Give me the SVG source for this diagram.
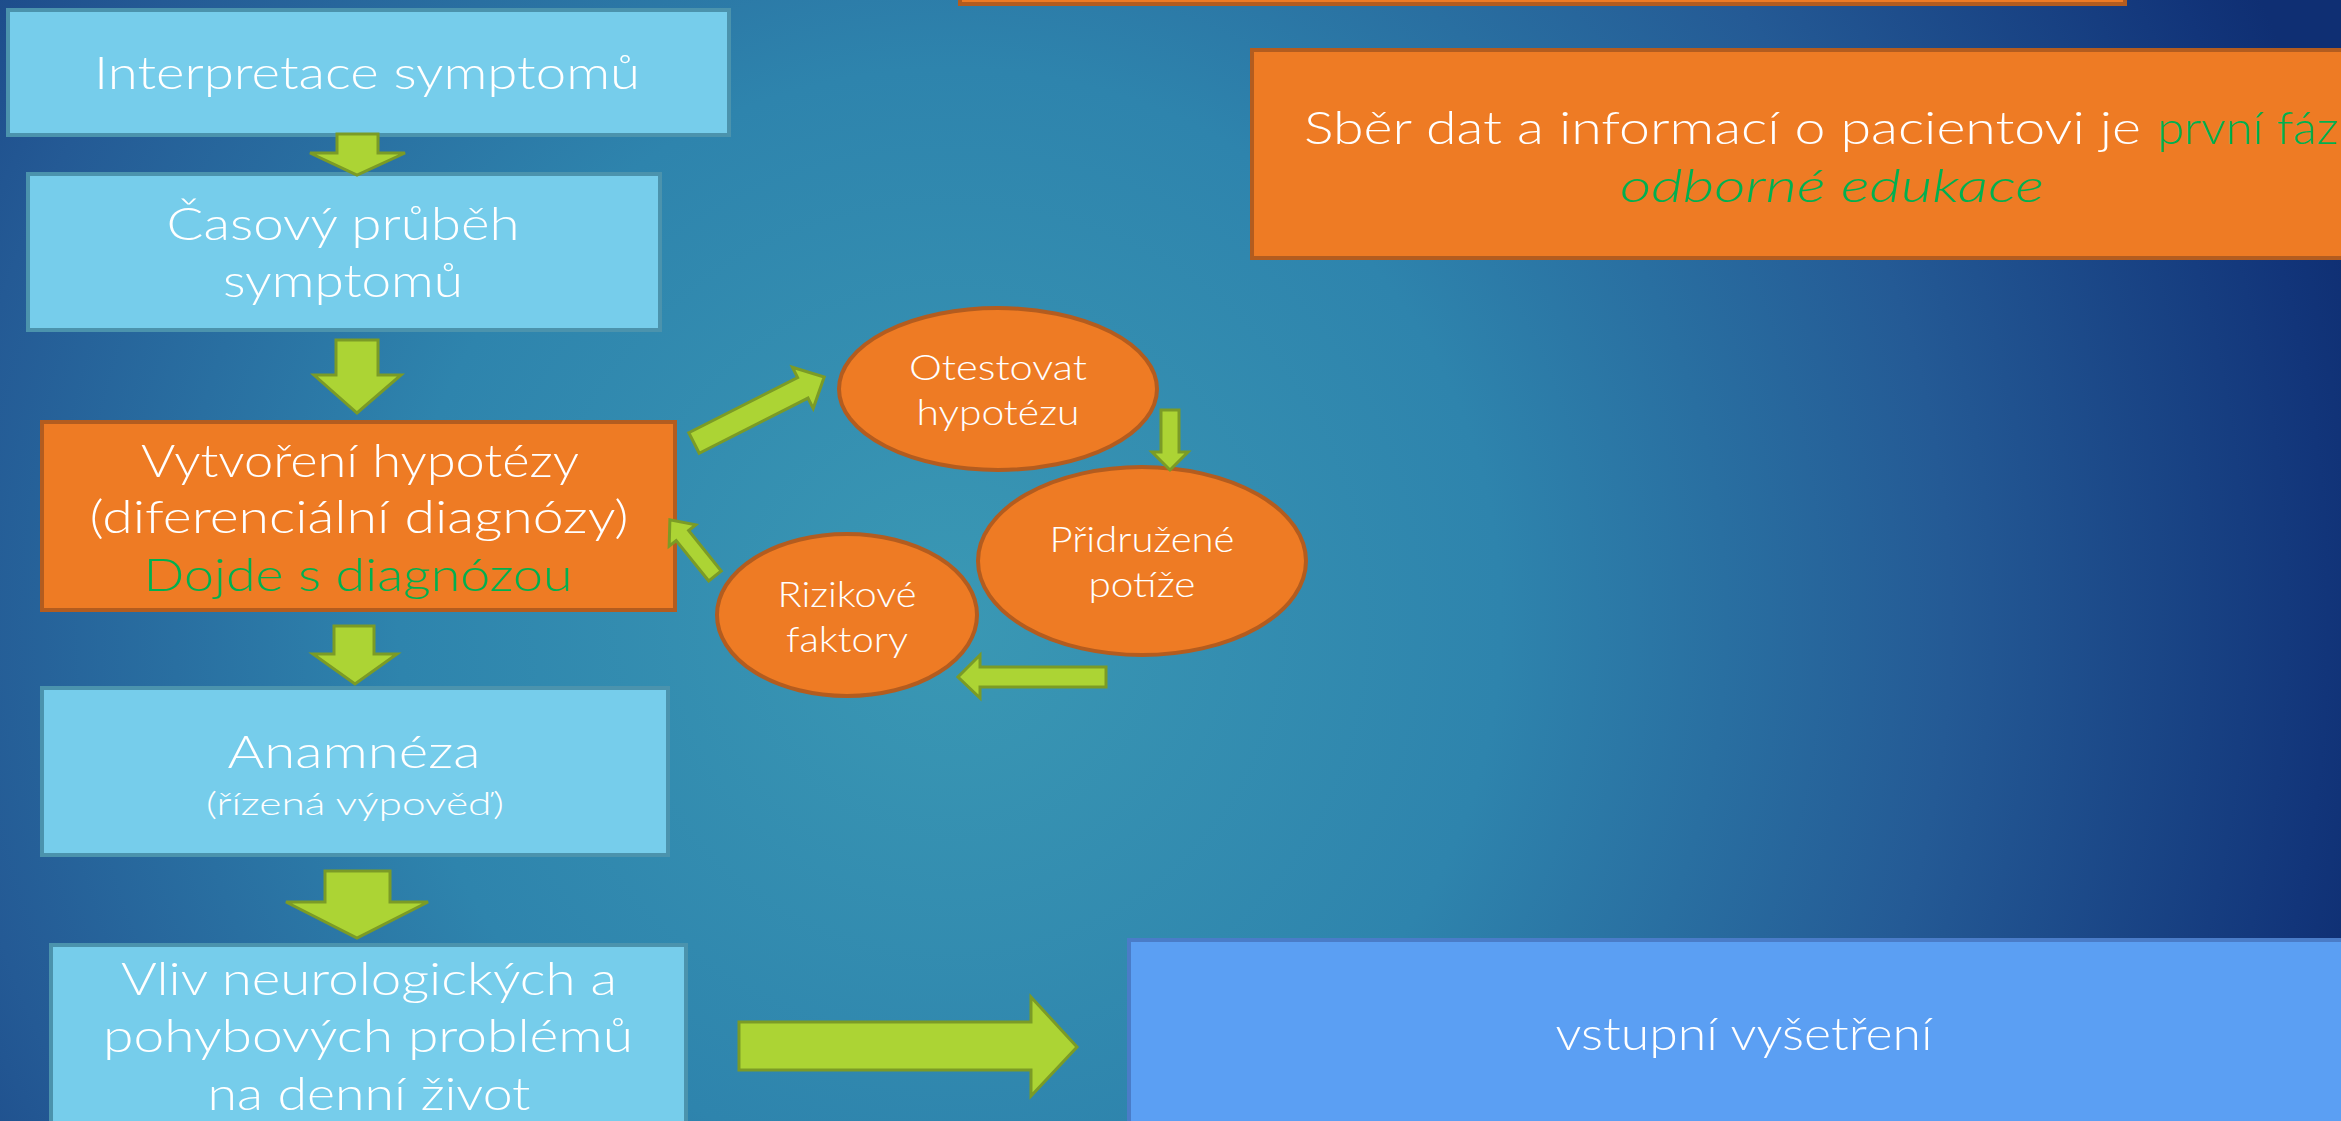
<svg xmlns="http://www.w3.org/2000/svg" width="2341" height="1121" viewBox="0 0 2341 1121">
<defs>
<radialGradient id="bg" gradientUnits="userSpaceOnUse" cx="950" cy="620" r="1450">
<stop offset="0" stop-color="#3a98b4"/>
<stop offset="0.38" stop-color="#2e84ad"/>
<stop offset="0.69" stop-color="#245a95"/>
<stop offset="0.95" stop-color="#12357a"/>
<stop offset="1" stop-color="#0f2f73"/>
</radialGradient>
<style>
.lb{fill:#76cdeb;stroke:#4b93ad;stroke-width:4}
.or{fill:#ee7b24;stroke:#b35c1f;stroke-width:4}
.bl{fill:#5b9ff3;stroke:#4a7cc8;stroke-width:4}
.ar{fill:#acd434;stroke:#7b9b26;stroke-width:3;stroke-linejoin:miter}
text{font-family:"Lato","Open Sans","Liberation Sans",sans-serif;font-weight:300;fill:#ffffff;text-anchor:middle}
.t46{font-size:46px}
.t32{font-size:32px}
.t35{font-size:35px}
.g{fill:#00b050}
</style>
</defs>
<rect x="0" y="0" width="2341" height="1121" fill="url(#bg)"/>

<g id="top-box">
<rect class="or" x="960" y="-60" width="1165" height="64"/>
</g>

<g id="n-interpretace">
<rect class="lb" x="8" y="10" width="721" height="125"/>
<text class="t46" x="367" y="89" textLength="546" lengthAdjust="spacingAndGlyphs">Interpretace symptomů</text>
</g>

<g id="n-casovy">
<rect class="lb" x="28" y="174" width="632" height="156"/>
<text class="t46" x="343" y="240" textLength="353" lengthAdjust="spacingAndGlyphs">Časový průběh</text>
<text class="t46" x="343" y="297" textLength="240" lengthAdjust="spacingAndGlyphs">symptomů</text>
</g>

<g id="n-hypotezy">
<rect class="or" x="42" y="422" width="633" height="188"/>
<text class="t46" x="360" y="477" textLength="438" lengthAdjust="spacingAndGlyphs">Vytvoření hypotézy</text>
<text class="t46" x="359" y="533" textLength="539" lengthAdjust="spacingAndGlyphs">(diferenciální diagnózy)</text>
<text class="t46 g" x="358" y="591" textLength="429" lengthAdjust="spacingAndGlyphs">Dojde s diagnózou</text>
</g>

<g id="n-anamneza">
<rect class="lb" x="42" y="688" width="626" height="167"/>
<text class="t46" x="354" y="768" textLength="253" lengthAdjust="spacingAndGlyphs">Anamnéza</text>
<text class="t32" x="355" y="815" textLength="298" lengthAdjust="spacingAndGlyphs">(řízená výpověď)</text>
</g>

<g id="n-vliv">
<rect class="lb" x="51" y="945" width="635" height="200"/>
<text class="t46" x="369" y="995" textLength="496" lengthAdjust="spacingAndGlyphs">Vliv neurologických a</text>
<text class="t46" x="368" y="1052" textLength="530" lengthAdjust="spacingAndGlyphs">pohybových problémů</text>
<text class="t46" x="369" y="1110" textLength="323" lengthAdjust="spacingAndGlyphs">na denní život</text>
</g>

<g id="n-otestovat">
<ellipse class="or" cx="998" cy="389" rx="159" ry="81"/>
<text class="t35" x="998" y="380" textLength="178" lengthAdjust="spacingAndGlyphs">Otestovat</text>
<text class="t35" x="998" y="425" textLength="163" lengthAdjust="spacingAndGlyphs">hypotézu</text>
</g>

<g id="n-pridruzene">
<ellipse class="or" cx="1142" cy="561" rx="164" ry="94"/>
<text class="t35" x="1142" y="552" textLength="185" lengthAdjust="spacingAndGlyphs">Přidružené</text>
<text class="t35" x="1142" y="597" textLength="107" lengthAdjust="spacingAndGlyphs">potíže</text>
</g>

<g id="n-rizikove">
<ellipse class="or" cx="847" cy="615" rx="130" ry="81"/>
<text class="t35" x="847" y="607" textLength="139" lengthAdjust="spacingAndGlyphs">Rizikové</text>
<text class="t35" x="847" y="652" textLength="122" lengthAdjust="spacingAndGlyphs">faktory</text>
</g>

<g id="n-sber">
<rect class="or" x="1252" y="50" width="1170" height="208"/>
<text class="t46" x="1304" y="144" style="text-anchor:start" textLength="837" lengthAdjust="spacingAndGlyphs">Sběr dat a informací o pacientovi je</text>
<text class="t46 g" x="2157" y="144" style="text-anchor:start" textLength="181" lengthAdjust="spacingAndGlyphs">první fáz</text>
<text class="t46 g" x="1832" y="202" style="font-style:italic" textLength="424" lengthAdjust="spacingAndGlyphs">odborné edukace</text>
</g>

<g id="n-vstupni">
<rect class="bl" x="1129" y="940" width="1260" height="220"/>
<text class="t46" x="1744" y="1050" textLength="377" lengthAdjust="spacingAndGlyphs">vstupní vyšetření</text>
</g>

<g id="connectors">
<polygon class="ar" points="337,134 378,134 378,153 405,153 357,175 310,153 337,153"/>
<polygon class="ar" points="336,340 378,340 378,375 401,375 357,413 314,375 336,375"/>
<polygon class="ar" points="334,626 374,626 374,654 397,654 355,684 313,654 334,654"/>
<polygon class="ar" points="325,871 390,871 390,902 428,902 357,938 286,902 325,902"/>
<polygon class="ar" points="739,1022 1031,1022 1031,997 1077,1047 1031,1096 1031,1070 739,1070"/>
<polygon class="ar" transform="translate(694,443) rotate(-26.9)" points="0,-11.5 122,-11.5 122,-23 146,0 122,23 122,11.5 0,11.5"/>
<polygon class="ar" points="1161,410 1179,410 1179,452 1188,452 1170,470 1152,452 1161,452"/>
<polygon class="ar" points="1106,667 1106,687 980,687 980,698 958,677 980,655 980,667"/>
<polygon class="ar" transform="translate(715,576) rotate(-128.8)" points="0,-8 52,-8 52,-17 72,0 52,17 52,8 0,8"/>
</g>
</svg>
